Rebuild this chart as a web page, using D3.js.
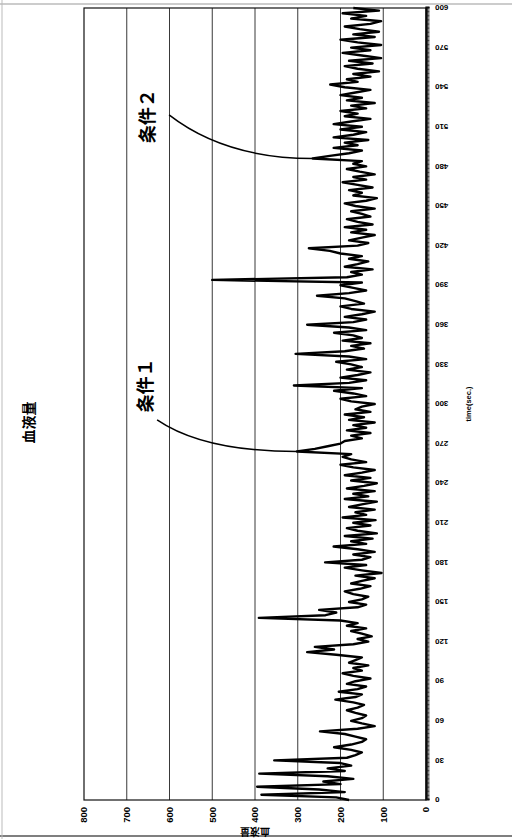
<!DOCTYPE html>
<html>
<head>
<meta charset="utf-8">
<script src="https://cdn.jsdelivr.net/npm/d3@7"></script>
<style>
  body { margin: 0; background: #fff; }
</style>
</head>
<body>
<div id="chart"></div>
<script>
// chart texts
const title = '血液量';
const yLabel = '血液量';
const xLabel = 'time(sec.)';

// axes
const timeTicks = [0, 30, 60, 90, 120, 150, 180, 210, 240, 270, 300, 330, 360, 390, 420, 450, 480, 510, 540, 570, 600];
const valueTicks = [0, 100, 200, 300, 400, 500, 600, 700, 800];

// blood volume, one reading every 2 sec (0 .. 600)
const sampleStep = 2;
const blood = [
  180, 210, 385, 190, 250, 395, 200, 240, 170, 230,
  390, 190, 230, 175, 200, 355, 185, 165, 150, 175,
  215, 175, 150, 140, 165, 190, 248, 160, 120, 150,
  175, 150, 140, 165, 185, 160, 145, 170, 212, 165,
  150, 204, 160, 140, 185, 165, 130, 170, 195, 150,
  170, 135, 180, 165, 150, 210, 278, 215, 260, 170,
  135, 160, 127, 150, 175, 140, 185, 160, 200, 391,
  235, 210, 250, 160, 140, 180, 150, 135, 170, 190,
  155, 130, 175, 150, 120, 165, 104, 150, 190, 140,
  236, 150, 130, 170, 120, 160, 216, 140, 175, 125,
  190, 115, 160, 185, 130, 170, 118, 195, 140, 165,
  120, 180, 150, 115, 190, 135, 170, 120, 185, 145,
  115, 175, 130, 190, 150, 120, 170, 200, 140, 175,
  195, 175, 302, 260, 230, 200, 190, 150, 175, 130,
  185, 140, 170, 120, 180, 145, 190, 130, 165, 150,
  120, 175, 200, 140, 170, 215, 150, 309, 180, 140,
  200, 160, 130, 185, 150, 175, 210, 140, 180, 305,
  190, 145, 175, 130, 195, 150, 170, 215, 140, 180,
  278, 170, 140, 190, 150, 120, 175, 200, 145, 165,
  190, 255, 180, 140, 170, 200, 150, 500, 185, 150,
  175, 125, 190, 160, 135, 180, 150, 200, 225, 274,
  160, 135, 180, 150, 120, 175, 140, 190, 125, 160,
  185, 130, 150, 175, 120, 165, 190, 140, 115, 170,
  150, 180, 125, 160, 195, 140, 170, 120, 155, 185,
  140, 170, 150, 265, 225, 180, 150, 216, 160, 190,
  135, 216, 170, 140, 200, 150, 216, 175, 130, 190,
  160, 200, 140, 175, 120, 185, 150, 200, 165, 130,
  190, 224, 160, 185, 130, 170, 110, 160, 190, 125,
  180, 105, 150, 195, 130, 175, 105, 160, 200, 120,
  170, 110, 155, 190, 130, 105, 175, 140, 195, 110,
  170
];

// annotations: label, where the leader starts, its bend, and the data point it hits
const noteLabels = ['条件１', '条件２'];
const noteTimes = [314, 518];
const noteValues = [655, 652];
const leaderFrom = [[288, 629], [519, 601]];
const leaderBend = [[264, 520], [486, 470]];
const leaderTo = [[264, 302], [486, 265]];

const W = 792, H = 342;
const svg = d3.select('#chart').append('svg')
    .attr('width', 512)
    .attr('height', 839)
    .style('background-color', 'white');

// page edges of the scan
svg.append('line').attr('x1', 0).attr('x2', 512).attr('y1', 4).attr('y2', 4)
    .attr('stroke', '#999').attr('stroke-width', 1);
svg.append('line').attr('x1', 0).attr('x2', 512).attr('y1', 836).attr('y2', 836)
    .attr('stroke', '#555').attr('stroke-width', 1.5);
svg.append('line').attr('x1', 2).attr('x2', 2).attr('y1', 0).attr('y2', 839)
    .attr('stroke', '#bbb').attr('stroke-width', 1);

// the whole chart lies on its side
const g = svg.append('g').attr('transform', 'translate(84,800) rotate(-90)');

const x = d3.scaleLinear().domain([0, 600]).range([0, W]);
const y = d3.scaleLinear().domain([0, 800]).range([H, 0]);

// grid
g.selectAll('.grid')
    .data(valueTicks.slice(1, -1))
    .enter().append('line')
    .attr('class', 'grid')
    .attr('x1', 0).attr('x2', W)
    .attr('y1', d => y(d)).attr('y2', d => y(d))
    .attr('stroke', '#222').attr('stroke-width', 0.9);

g.append('rect')
    .attr('x', 0).attr('y', 0).attr('width', W).attr('height', H)
    .attr('fill', 'none').attr('stroke', '#111').attr('stroke-width', 1.2);

// time axis with a tick every second
g.append('g')
    .attr('transform', 'translate(0,' + H + ')')
    .call(d3.axisBottom(x).tickValues(d3.range(0, 601, 1)).tickSize(3.5).tickFormat(''))
    .call(a => a.select('.domain').attr('stroke', '#000').attr('stroke-width', 2.2))
    .call(a => a.selectAll('.tick line').attr('stroke', '#111').attr('stroke-width', 0.8));

g.selectAll('.tlab')
    .data(timeTicks)
    .enter().append('text')
    .attr('class', 'tlab')
    .attr('transform', d => 'translate(' + x(d) + ',' + (H + 9) + ') rotate(-90)')
    .attr('text-anchor', 'end')
    .attr('dy', '0.35em')
    .style('font-family', '"Liberation Sans", Arial, sans-serif')
    .style('font-weight', 'bold')
    .style('font-size', '8px')
    .text(d => d);

g.selectAll('.vlab')
    .data(valueTicks)
    .enter().append('text')
    .attr('class', 'vlab')
    .attr('x', -7)
    .attr('y', d => y(d))
    .attr('dy', '0.35em')
    .attr('text-anchor', 'end')
    .style('font-family', '"Liberation Sans", Arial, sans-serif')
    .style('font-weight', 'bold')
    .style('font-size', '9.5px')
    .text(d => d);

// the series
const line = d3.line()
    .x((d, i) => x(i * sampleStep))
    .y(d => y(d));
g.append('path')
    .datum(blood)
    .attr('d', line)
    .attr('fill', 'none')
    .attr('stroke', '#000')
    .attr('stroke-width', 2.4)
    .attr('stroke-linejoin', 'round');

// annotations
noteLabels.forEach((lab, i) => {
    const p = d3.path();
    p.moveTo(x(leaderFrom[i][0]), y(leaderFrom[i][1]));
    p.quadraticCurveTo(x(leaderBend[i][0]), y(leaderBend[i][1]), x(leaderTo[i][0]), y(leaderTo[i][1]));
    g.append('path').attr('d', p.toString())
        .attr('fill', 'none').attr('stroke', '#000').attr('stroke-width', 1.5);
    g.append('text')
        .attr('x', x(noteTimes[i]))
        .attr('y', y(noteValues[i]))
        .attr('dy', '0.35em')
        .attr('text-anchor', 'middle')
        .style('font-family', '"Noto Sans CJK JP", sans-serif')
        .style('font-weight', 'bold')
        .style('font-size', '18px')
        .text(lab);
});

// titles
g.append('text')
    .attr('x', x(286)).attr('y', -55)
    .attr('dy', '0.35em')
    .attr('text-anchor', 'middle')
    .style('font-family', '"Noto Sans CJK JP", sans-serif')
    .style('font-weight', 'bold')
    .style('font-size', '14px')
    .text(title);

g.append('text')
    .attr('transform', 'translate(-31,' + y(400) + ') rotate(-90)')
    .attr('dy', '0.35em')
    .attr('text-anchor', 'middle')
    .style('font-family', '"Noto Sans CJK JP", sans-serif')
    .style('font-weight', 'bold')
    .style('font-size', '10px')
    .text(yLabel);

g.append('text')
    .attr('x', x(300)).attr('y', H + 42)
    .attr('dy', '0.35em')
    .attr('text-anchor', 'middle')
    .style('font-family', '"Liberation Sans", Arial, sans-serif')
    .style('font-weight', 'bold')
    .style('font-size', '7.5px')
    .text(xLabel);
</script>
</body>
</html>
